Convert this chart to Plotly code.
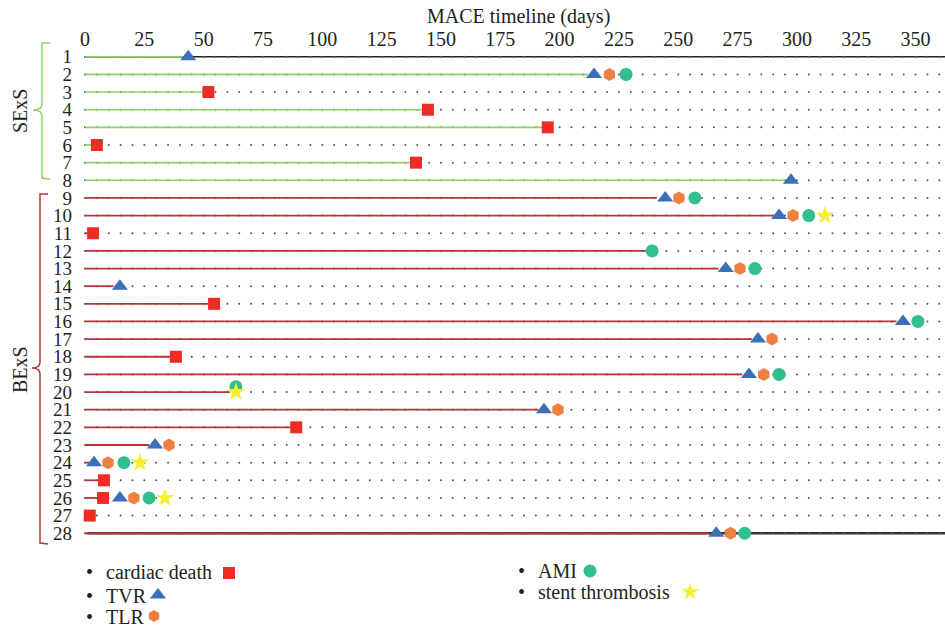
import numpy as np
import plotly.graph_objects as go

# ---------------- data ----------------
rows = list(range(1, 29))
sexs_rows = list(range(1, 9))
bexs_rows = list(range(9, 29))
# follow-up line end (days) per row
line_end = [43.5, 212, 50, 142, 193, 3, 137, 295,
            241, 290, 2, 237, 267, 12, 52, 342, 281, 36, 277, 61,
            191, 87, 27, 1.7, 5.6, 5, 0, 263]

cd_rows = [3, 4, 5, 6, 7, 11, 15, 18, 22, 25, 26, 27]
cd_days = [52, 144.5, 195, 5, 139.5, 3.4, 54.4, 38.3, 89, 8, 7.6, 2]

tvr_rows = [1, 2, 8, 9, 10, 13, 14, 16, 17, 19, 21, 23, 24, 26, 28]
tvr_days = [43.5, 214.5, 297.5, 244.5, 292.5, 270, 14.7, 344.7, 283.6, 279.8, 193.4, 29.5, 3.8, 14.7, 266]

tlr_rows = [2, 9, 10, 13, 17, 19, 21, 23, 24, 26, 28]
tlr_days = [221, 250.3, 298.4, 276, 289.5, 286, 199.3, 35.4, 9.7, 20.6, 272]

ami_rows = [2, 9, 10, 12, 13, 16, 19, 20, 24, 26, 28]
ami_days = [228, 257, 305, 239, 282.3, 351, 292.5, 63.6, 16.4, 27, 278]

st_rows = [10, 20, 24, 26]
st_days = [311.8, 63.6, 23.2, 33.7]

x_ticks = list(range(0, 351, 25))
legend_labels = ["cardiac death", "TVR", "TLR", "AMI", "stent thrombosis"]

# ---------------- style ----------------
FONT = "Liberation Serif"
TXT = "#231f20"
GREEN = "#8fcf6a"
RED = "#b8323a"
C_CD, C_TVR, C_TLR, C_AMI, C_ST = "#ee2b24", "#3c6fb8", "#ee8040", "#30bf8e", "#f6ee2e"

W, H = 945, 631
PL, PR, PT, PB = 85, 945, 55, 535      # main plot area in pixels
X_MAX = (PR - PL) / 2.373
Y_LO, Y_HI = 0.9, 28.1

fig = go.Figure()

# grid dots
dot_x, dot_y = [], []
for r in rows:
    for d in range(0, 361, 5):
        dot_x.append(d)
        dot_y.append(r)
fig.add_trace(go.Scatter(x=dot_x, y=dot_y, mode="markers",
                         marker=dict(size=2, color="#555"), hoverinfo="skip",
                         showlegend=False, cliponaxis=False))


def seg(rs):
    xs, ys = [], []
    for r in rs:
        xs += [0, line_end[r - 1], None]
        ys += [r, r, None]
    return xs, ys


# axis lines at rows 1 and 28
fig.add_shape(type="line", xref="x", yref="y", x0=0, x1=X_MAX, y0=1, y1=1,
              line=dict(color="#222", width=1.5), layer="below")
fig.add_shape(type="line", xref="x", yref="y", x0=1, x1=X_MAX, y0=28, y1=28,
              line=dict(color="#333", width=2.5), layer="below")

xs, ys = seg(sexs_rows)
fig.add_trace(go.Scatter(x=xs, y=ys, mode="lines", line=dict(color=GREEN, width=1.6),
                         showlegend=False, hoverinfo="skip"))
xs, ys = seg(bexs_rows)
fig.add_trace(go.Scatter(x=xs, y=ys, mode="lines", line=dict(color=RED, width=1.8),
                         showlegend=False, hoverinfo="skip"))

# AMI drawn slightly above the row when it coincides with a stent thrombosis
st_pairs = set(zip(st_rows, st_days))
ami_y = [r - 0.3 if (r, d) in st_pairs else r for r, d in zip(ami_rows, ami_days)]

mk = [
    (cd_days, cd_rows, "square", 12, C_CD),
    (tvr_days, tvr_rows, "triangle-up", 14, C_TVR),
    (tlr_days, tlr_rows, "hexagon", 13, C_TLR),
    (ami_days, ami_y, "circle", 13, C_AMI),
    (st_days, st_rows, "star", 14, C_ST),
]
for d, r, sym, sz, col in mk:
    fig.add_trace(go.Scatter(x=d, y=r, mode="markers",
                             marker=dict(symbol=sym, size=sz, color=col, line=dict(width=0)),
                             showlegend=False, cliponaxis=False))

# ---- overlay (pixel) subplot covering the whole figure: legend, braces, labels ----
leg_pos = [(104, 572), (104, 596), (104, 617), (536, 571), (536, 592)]
leg_mark = [(229, 573), (158, 595), (154, 616), (590, 571), (690, 592)]
leg_size = [12, 14, 12, 13, 13]
for (lx, ly), lab, (mx, my), (d, r, sym, sz, col), lsz in zip(leg_pos, legend_labels, leg_mark, mk, leg_size):
    fig.add_annotation(x=lx - 15, y=ly, xref="x2", yref="y2", text="•",
                       showarrow=False, xanchor="center", yanchor="middle",
                       font=dict(family=FONT, size=20, color=TXT))
    fig.add_annotation(x=lx, y=ly, xref="x2", yref="y2", text=lab,
                       showarrow=False, xanchor="left", yanchor="middle",
                       font=dict(family=FONT, size=20, color=TXT))
    fig.add_trace(go.Scatter(x=[mx], y=[my], xaxis="x2", yaxis="y2", mode="markers",
                             marker=dict(symbol=sym, size=lsz, color=col, line=dict(width=0)),
                             showlegend=False, hoverinfo="skip"))


def brace(top, bot, mid, xv, xh, xn, color):
    p = (f"M {xh},{top} L {xv},{top} L {xv},{mid - 6} "
         f"Q {xv},{mid} {xn},{mid} Q {xv},{mid} {xv},{mid + 6} "
         f"L {xv},{bot} L {xh},{bot + 1}")
    fig.add_shape(type="path", path=p, xref="x2", yref="y2",
                  line=dict(color=color, width=1.5))


brace(43, 178, 110, 42, 50, 33, GREEN)
brace(194, 543, 368, 40, 48, 32, RED)

for lab, yy in [("SExS", 111), ("BExS", 370)]:
    fig.add_annotation(x=20, y=yy, xref="x2", yref="y2", text=lab,
                       textangle=-90, showarrow=False, xanchor="center", yanchor="middle",
                       font=dict(family=FONT, size=20, color=TXT))

fig.add_annotation(x=518, y=16, xref="x2", yref="y2",
                   text="MACE timeline (days)", showarrow=False,
                   xanchor="center", yanchor="middle",
                   font=dict(family=FONT, size=20, color=TXT))

fig.update_layout(
    width=W, height=H,
    margin=dict(l=0, r=0, t=0, b=0),
    paper_bgcolor="white", plot_bgcolor="rgba(0,0,0,0)",
    showlegend=False,
    xaxis=dict(domain=[PL / W, PR / W], anchor="y", range=[0, X_MAX], side="top",
               tickvals=x_ticks, automargin=False,
               showgrid=False, zeroline=False, showline=False, ticks="",
               ticklabelstandoff=4,
               tickfont=dict(family=FONT, size=20, color=TXT)),
    yaxis=dict(domain=[1 - PB / H, 1 - PT / H], anchor="x", range=[Y_HI, Y_LO],
               tickvals=rows, automargin=False, showgrid=False, zeroline=False,
               showline=False, ticks="", ticklabelstandoff=12,
               tickfont=dict(family=FONT, size=19, color=TXT)),
    xaxis2=dict(domain=[0, 1], anchor="y2", range=[0, W], visible=False, automargin=False),
    yaxis2=dict(domain=[0, 1], anchor="x2", range=[H, 0], visible=False, automargin=False),
)

fig.write_html("out.html")
